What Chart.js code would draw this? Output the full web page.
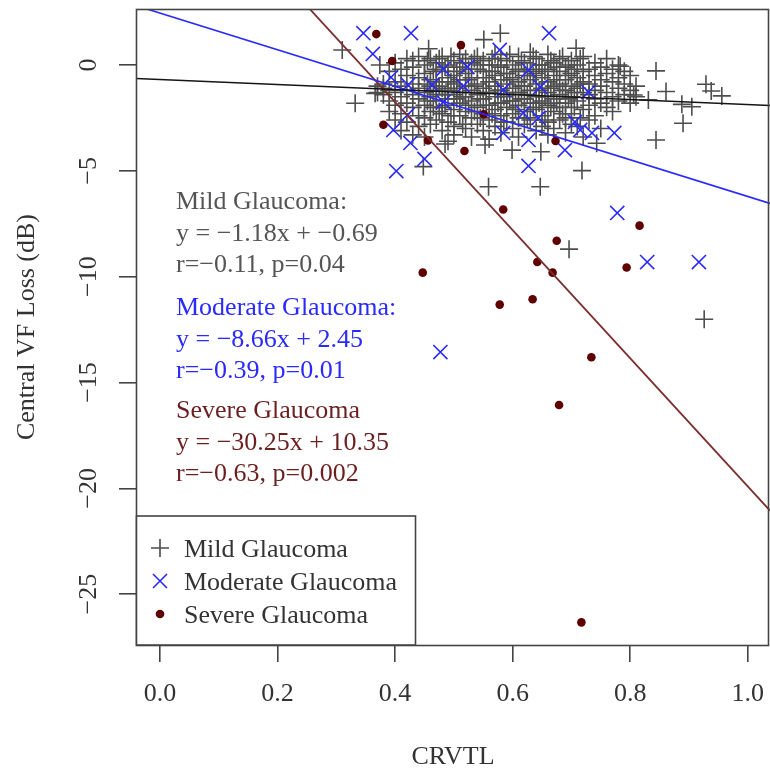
<!DOCTYPE html>
<html>
<head>
<meta charset="utf-8">
<script src="https://cdn.jsdelivr.net/npm/chart.js@4.4.1/dist/chart.umd.min.js"></script>
<style>
  html, body { margin: 0; padding: 0; background: #fff; }
  #wrap { width: 770px; height: 773px; }
</style>
</head>
<body>
<div id="wrap"><canvas id="chart" width="770" height="773"></canvas></div>
<script>
// CRVTL vs central VF loss by glaucoma stage
const xTicks = [0, 0.2, 0.4, 0.6, 0.8, 1.0];
const xTickLabels = ["0.0", "0.2", "0.4", "0.6", "0.8", "1.0"];
const yTicks = [0, -5, -10, -15, -20, -25];
const yTickLabels = ["0", "−5", "−10", "−15", "−20", "−25"];

const groups = ["Mild Glaucoma", "Moderate Glaucoma", "Severe Glaucoma"];
const slopes = [-1.18, -8.66, -30.25];
const intercepts = [-0.69, 2.45, 10.35];
const fitLines = [
  ["Mild Glaucoma:", "y = −1.18x + −0.69", "r=−0.11, p=0.04"],
  ["Moderate Glaucoma:", "y = −8.66x + 2.45", "r=−0.39, p=0.01"],
  ["Severe Glaucoma", "y = −30.25x + 10.35", "r=−0.63, p=0.002"]
];

const mildPoints = [
  [0.310,0.71],[0.332,-1.81],[0.374,0.00],[0.366,-1.34],[0.457,0.77],[0.551,1.20],[0.579,1.50],[0.708,0.79],
  [0.783,-0.06],[0.844,-0.28],[0.861,-1.25],[0.888,-1.86],[0.905,-1.97],[0.890,-2.75],[0.929,-0.91],[0.938,-1.23],
  [0.956,-1.46],[0.844,-3.54],[0.831,-1.65],[0.806,-1.42],[0.718,-4.99],[0.647,-5.75],[0.559,-5.75],[0.696,-8.70],
  [0.926,-12.01],[0.599,-4.02],[0.553,-3.78],[0.485,-3.73],[0.448,-4.80],[0.648,-4.10],[0.743,-3.70],
  [0.37,-1.0],[0.37,-1.3],
  [0.38,-0.9],[0.38,-1.4],[0.38,-1.1],
  [0.39,-0.3],[0.39,-1.2],[0.39,-1.7],[0.39,-2.2],
  [0.40,0.1],[0.40,-0.8],[0.40,-1.3],[0.40,-1.9],[0.40,-2.6],
  [0.41,-0.2],[0.41,-1.0],[0.41,-1.5],[0.41,-2.3],[0.41,-3.1],
  [0.42,0.3],[0.42,-0.5],[0.42,-1.2],[0.42,-1.8],[0.42,-2.7],
  [0.43,0.2],[0.43,-0.1],[0.43,-0.9],[0.43,-1.4],[0.43,-2.0],[0.43,-3.3],
  [0.44,0.4],[0.44,-0.6],[0.44,-1.1],[0.44,-1.6],[0.44,-2.4],[0.44,-2.9],
  [0.45,0.0],[0.45,-0.4],[0.45,-1.3],[0.45,-1.9],[0.45,-2.5],[0.45,-3.4],
  [0.46,0.3],[0.46,-0.7],[0.46,-1.0],[0.46,-1.5],[0.46,-2.2],[0.46,-2.8],
  [0.47,0.1],[0.47,-0.2],[0.47,-0.8],[0.47,-1.4],[0.47,-1.7],[0.47,-2.6],
  [0.48,0.4],[0.48,-0.3],[0.48,-1.1],[0.48,-2.0],[0.48,-2.3],[0.48,-3.1],
  [0.49,0.0],[0.49,-0.6],[0.49,-1.2],[0.49,-1.6],[0.49,-2.7],[0.49,-3.6],
  [0.50,0.2],[0.50,-0.5],[0.50,-0.9],[0.50,-1.4],[0.50,-2.1],[0.50,-2.9],[0.50,-3.3],
  [0.51,0.5],[0.51,-0.1],[0.51,-0.7],[0.51,-1.3],[0.51,-1.8],[0.51,-2.4],
  [0.52,0.3],[0.52,-0.4],[0.52,-1.0],[0.52,-1.5],[0.52,-2.2],[0.52,-3.0],
  [0.53,0.1],[0.53,-0.6],[0.53,-1.2],[0.53,-1.7],[0.53,-2.5],[0.53,-3.4],
  [0.54,0.4],[0.54,-0.2],[0.54,-0.9],[0.54,-1.4],[0.54,-2.0],[0.54,-2.8],
  [0.55,0.2],[0.55,-0.3],[0.55,-1.1],[0.55,-1.6],[0.55,-2.3],[0.55,-3.1],
  [0.56,0.0],[0.56,-0.8],[0.56,-1.3],[0.56,-1.9],[0.56,-2.6],[0.56,-3.5],
  [0.57,0.5],[0.57,-0.5],[0.57,-1.0],[0.57,-1.5],[0.57,-2.1],[0.57,-2.9],
  [0.58,0.3],[0.58,-0.1],[0.58,-0.7],[0.58,-1.2],[0.58,-1.8],[0.58,-2.4],[0.58,-3.2],
  [0.59,0.2],[0.59,-0.4],[0.59,-0.9],[0.59,-1.4],[0.59,-2.0],[0.59,-2.7],
  [0.60,0.0],[0.60,-0.6],[0.60,-1.1],[0.60,-1.7],[0.60,-2.3],[0.60,-3.0],
  [0.61,0.4],[0.61,-0.3],[0.61,-0.8],[0.61,-1.3],[0.61,-1.9],[0.61,-2.5],[0.61,-3.4],
  [0.62,0.1],[0.62,-0.5],[0.62,-1.0],[0.62,-1.6],[0.62,-2.2],[0.62,-2.8],
  [0.63,0.6],[0.63,-0.2],[0.63,-0.7],[0.63,-1.2],[0.63,-1.8],[0.63,-2.6],
  [0.64,0.3],[0.64,-0.4],[0.64,-0.9],[0.64,-1.5],[0.64,-2.1],[0.64,-3.1],
  [0.65,0.0],[0.65,-0.6],[0.65,-1.1],[0.65,-1.7],[0.65,-2.4],[0.65,-2.9],
  [0.66,0.5],[0.66,-0.2],[0.66,-0.8],[0.66,-1.3],[0.66,-1.9],[0.66,-2.7],[0.66,-3.3],
  [0.67,0.1],[0.67,-0.5],[0.67,-1.0],[0.67,-1.6],[0.67,-2.2],[0.67,-3.0],
  [0.68,0.3],[0.68,-0.3],[0.68,-0.9],[0.68,-1.4],[0.68,-2.0],[0.68,-2.6],
  [0.69,-0.1],[0.69,-0.7],[0.69,-1.2],[0.69,-1.8],[0.69,-2.5],[0.69,-3.2],
  [0.70,0.2],[0.70,-0.4],[0.70,-1.0],[0.70,-1.5],[0.70,-2.3],[0.70,-2.8],
  [0.71,0.0],[0.71,-0.6],[0.71,-1.1],[0.71,-1.7],[0.71,-2.9],
  [0.72,0.4],[0.72,-0.3],[0.72,-0.8],[0.72,-1.3],[0.72,-2.1],[0.72,-3.4],
  [0.73,-0.2],[0.73,-0.9],[0.73,-1.4],[0.73,-1.9],[0.73,-2.6],
  [0.74,0.1],[0.74,-0.5],[0.74,-1.2],[0.74,-1.6],[0.74,-2.4],
  [0.75,-0.1],[0.75,-0.7],[0.75,-1.0],[0.75,-1.8],[0.75,-3.0],
  [0.76,0.3],[0.76,-0.4],[0.76,-1.3],[0.76,-2.0],
  [0.77,-0.2],[0.77,-0.8],[0.77,-1.5],[0.77,-2.2],
  [0.78,0.0],[0.78,-0.6],[0.78,-1.1],[0.78,-1.7],
  [0.79,-0.3],[0.79,-0.9],[0.79,-1.4],
  [0.80,-0.5],[0.80,-1.2],[0.80,-1.8],
  [0.81,-1.0],[0.81,-1.5],
  [0.455,0.2],[0.455,-0.9],[0.455,-1.7],[0.465,-0.3],[0.465,-1.2],[0.465,-2.0],
  [0.475,0.3],[0.475,-1.0],[0.475,-2.2],[0.485,-0.1],[0.485,-1.4],[0.485,-1.9],
  [0.495,0.4],[0.495,-0.8],[0.495,-2.4],[0.505,-0.3],[0.505,-1.1],[0.505,-1.6],
  [0.515,0.1],[0.515,-1.5],[0.515,-2.8],[0.525,-0.2],[0.525,-0.7],[0.525,-1.9],
  [0.535,0.3],[0.535,-1.0],[0.535,-2.2],[0.545,0.0],[0.545,-1.6],[0.545,-2.5],
  [0.555,-0.6],[0.555,-1.3],[0.555,-1.9],[0.565,0.3],[0.565,-0.3],[0.565,-2.3],
  [0.575,0.0],[0.575,-1.2],[0.575,-1.8],[0.585,-0.4],[0.585,-1.5],[0.585,-2.7],
  [0.595,0.5],[0.595,-0.7],[0.595,-1.7],[0.605,-0.2],[0.605,-1.3],[0.605,-2.1],
  [0.615,0.2],[0.615,-1.0],[0.615,-1.6],[0.625,-0.3],[0.625,-1.4],[0.625,-2.5],
  [0.635,0.4],[0.635,-0.5],[0.635,-2.0],[0.645,0.0],[0.645,-1.2],[0.645,-1.8],
  [0.655,-0.3],[0.655,-1.5],[0.655,-2.6],[0.665,0.2],[0.665,-1.1],[0.665,-2.0],
  [0.675,-0.1],[0.675,-0.7],[0.675,-1.8],[0.685,0.4],[0.685,-1.2],[0.685,-2.3],
  [0.695,0.0],[0.695,-0.5],[0.695,-1.6],[0.705,-0.2],[0.705,-1.3],[0.705,-2.0],
  [0.715,0.3],[0.715,-0.9],[0.715,-2.5]
];

const moderatePoints = [
  [0.346,1.50],[0.427,1.50],[0.662,1.50],[0.362,0.52],[0.578,0.71],[0.393,-0.58],[0.482,-0.19],[0.523,-0.09],
  [0.422,-0.94],[0.463,-0.94],[0.516,-0.99],[0.482,-1.75],[0.421,-2.36],[0.397,-3.07],[0.426,-3.68],[0.450,-4.44],
  [0.402,-5.01],[0.627,-0.24],[0.647,-1.04],[0.584,-1.18],[0.729,-1.28],[0.618,-2.27],[0.584,-3.21],[0.627,-3.54],
  [0.644,-2.50],[0.706,-2.69],[0.715,-3.07],[0.735,-3.21],[0.773,-3.21],[0.689,-4.02],[0.627,-4.77],[0.778,-6.99],
  [0.829,-9.31],[0.917,-9.31],[0.477,-13.56]
];

const severePoints = [
  [0.368,1.46],[0.512,0.94],[0.395,0.19],[0.380,-2.82],[0.456,-3.57],[0.518,-4.06],[0.551,-2.33],[0.673,-3.59],
  [0.584,-6.83],[0.816,-7.59],[0.675,-8.30],[0.642,-9.31],[0.668,-9.81],[0.794,-9.57],[0.447,-9.81],[0.578,-11.32],
  [0.634,-11.07],[0.734,-13.81],[0.679,-16.06],[0.717,-26.33]
];

const xMin = -0.041, xMax = 1.038;
const yMin = -27.4, yMax = 2.645;

const colors = ["#4d4d4d", "#2a2aff", "#5e0000"];
const lineColors = ["#151515", "#2a2aff", "#7b2e2e"];
const textColors = ["#555555", "#2a2aff", "#6b1f1f"];
const serif = "'Liberation Serif', 'Times New Roman', serif";

const toXY = (pts) => pts.map((p) => ({ x: p[0], y: p[1] }));

const fitData = (i) => [
  { x: xMin, y: intercepts[i] + slopes[i] * xMin },
  { x: xMax, y: intercepts[i] + slopes[i] * xMax }
];

const decor = {
  id: "decor",
  afterDraw(chart) {
    const ctx = chart.ctx;
    const area = chart.chartArea;
    const xs = chart.scales.x;
    const ys = chart.scales.y;
    ctx.save();

    // plot frame
    ctx.strokeStyle = "#444";
    ctx.lineWidth = 1.6;
    ctx.strokeRect(area.left + 0.5, area.top + 0.5, area.right - area.left - 2, area.bottom - area.top);

    // tick labels
    ctx.fillStyle = "#333";
    ctx.font = "26px " + serif;
    ctx.textAlign = "center";
    ctx.textBaseline = "middle";
    xTicks.forEach((v, i) => {
      ctx.fillText(xTickLabels[i], xs.getPixelForValue(v), 694);
    });
    yTicks.forEach((v, i) => {
      ctx.save();
      ctx.translate(89, ys.getPixelForValue(v));
      ctx.rotate(-Math.PI / 2);
      ctx.fillText(yTickLabels[i], 0, 0);
      ctx.restore();
    });

    // axis titles
    ctx.fillText("CRVTL", (area.left + area.right) / 2, 757);
    ctx.save();
    ctx.translate(27, (area.top + area.bottom) / 2);
    ctx.rotate(-Math.PI / 2);
    ctx.fillText("Central VF Loss (dB)", 0, 0);
    ctx.restore();

    // regression annotations
    ctx.textAlign = "left";
    ctx.textBaseline = "alphabetic";
    const blockTop = [209, 315, 418];
    fitLines.forEach((lines, g) => {
      ctx.fillStyle = textColors[g];
      lines.forEach((t, k) => ctx.fillText(t, 176, blockTop[g] + k * 31.5));
    });

    // legend box
    const lx = area.left + 0.5, ly = 516, lw = 279, lh = area.bottom - 516;
    ctx.fillStyle = "#fff";
    ctx.fillRect(lx, ly, lw, lh);
    ctx.strokeStyle = "#444";
    ctx.lineWidth = 1.6;
    ctx.strokeRect(lx, ly, lw, lh);

    const rows = [548, 581, 614];
    ctx.lineWidth = 1.6;
    // +
    ctx.strokeStyle = colors[0];
    ctx.beginPath();
    ctx.moveTo(151, rows[0]); ctx.lineTo(169, rows[0]);
    ctx.moveTo(160, rows[0] - 9); ctx.lineTo(160, rows[0] + 9);
    ctx.stroke();
    // x
    ctx.strokeStyle = colors[1];
    ctx.beginPath();
    ctx.moveTo(153, rows[1] - 7); ctx.lineTo(167, rows[1] + 7);
    ctx.moveTo(167, rows[1] - 7); ctx.lineTo(153, rows[1] + 7);
    ctx.stroke();
    // dot
    ctx.fillStyle = colors[2];
    ctx.beginPath();
    ctx.arc(160, rows[2], 4.3, 0, Math.PI * 2);
    ctx.fill();

    ctx.fillStyle = "#333";
    ctx.font = "26px " + serif;
    groups.forEach((g, i) => ctx.fillText(g, 184, rows[i] + 9));

    ctx.restore();
  }
};

const tickGrid = { drawOnChartArea: false, drawTicks: true, tickLength: 17, color: "#444", lineWidth: 1.6 };

new Chart(document.getElementById("chart"), {
  type: "scatter",
  data: {
    datasets: [
      { data: fitData(0), showLine: true, pointRadius: 0, borderColor: lineColors[0], borderWidth: 1.5, order: 1 },
      { data: fitData(1), showLine: true, pointRadius: 0, borderColor: lineColors[1], borderWidth: 1.6, order: 1 },
      { data: fitData(2), showLine: true, pointRadius: 0, borderColor: lineColors[2], borderWidth: 1.8, order: 1 },
      {
        label: groups[2], data: toXY(severePoints), pointStyle: "circle", pointRadius: 4.3,
        backgroundColor: colors[2], borderColor: colors[2], borderWidth: 0, order: 2
      },
      {
        label: groups[1], data: toXY(moderatePoints), pointStyle: "crossRot", pointRadius: 10,
        borderColor: colors[1], borderWidth: 1.6, order: 3
      },
      {
        label: groups[0], data: toXY(mildPoints), pointStyle: "cross", pointRadius: 9,
        borderColor: colors[0], borderWidth: 1.6, order: 4
      }
    ]
  },
  options: {
    responsive: false,
    animation: false,
    devicePixelRatio: 1,
    layout: { autoPadding: false, padding: { top: 9, left: 0, right: 0, bottom: 0 } },
    plugins: { legend: { display: false }, tooltip: { enabled: false } },
    scales: {
      x: {
        type: "linear", min: xMin, max: xMax,
        afterBuildTicks: (s) => { s.ticks = xTicks.map((v) => ({ value: v })); },
        afterFit: (s) => { s.height = 128; },
        ticks: { display: false },
        grid: tickGrid,
        border: { display: false }
      },
      y: {
        type: "linear", min: yMin, max: yMax,
        afterBuildTicks: (s) => { s.ticks = yTicks.map((v) => ({ value: v })); },
        afterFit: (s) => { s.width = 136; },
        ticks: { display: false },
        grid: tickGrid,
        border: { display: false }
      }
    }
  },
  plugins: [decor]
});
</script>
</body>
</html>
